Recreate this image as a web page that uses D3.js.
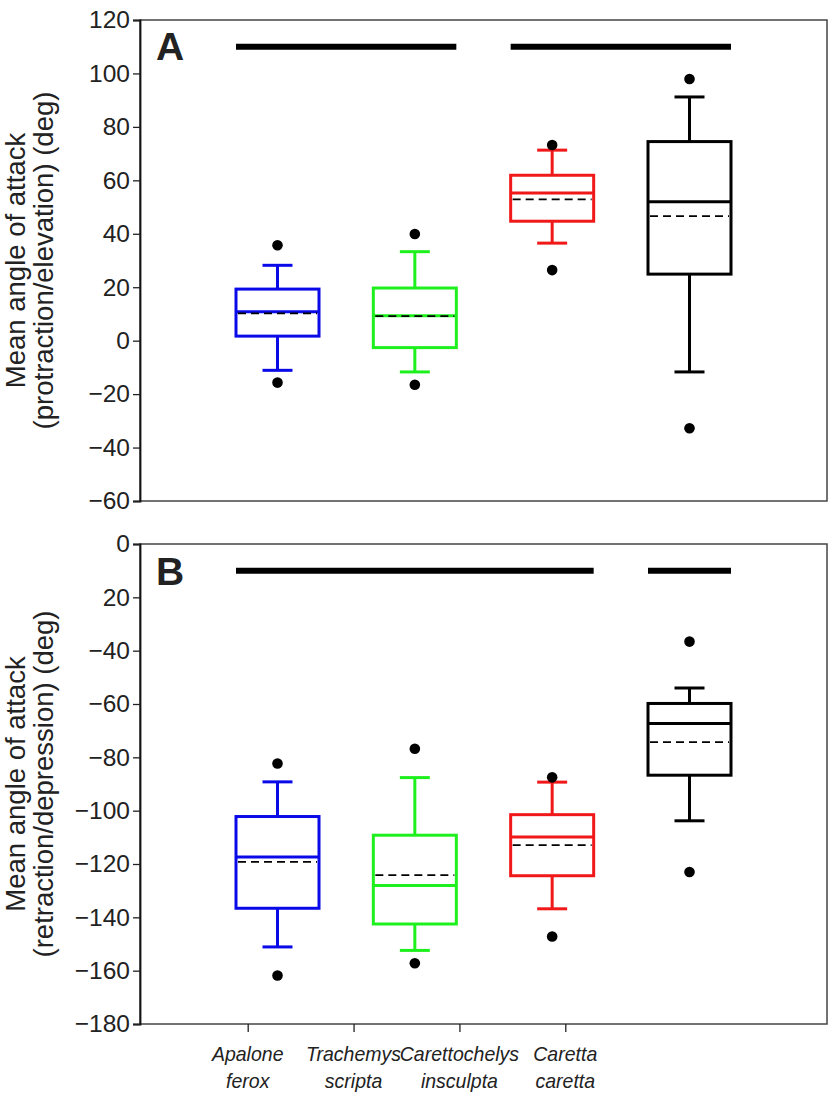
<!DOCTYPE html>
<html><head><meta charset="utf-8">
<script src="https://cdn.jsdelivr.net/npm/d3@7"></script>
<style>body{margin:0;background:#fff}svg{display:block}</style>
</head><body>
<script>
// ---- data ----
const categories = ["Apalone ferox", "Trachemys scripta", "Carettochelys insculpta", "Caretta caretta"];
const labelLine1 = ["Apalone", "Trachemys", "Carettochelys", "Caretta"];
const labelLine2 = ["ferox", "scripta", "insculpta", "caretta"];
const colors = ["#0a0ae8", "#1ef01e", "#f01818", "#000000"];

// panel A (protraction/elevation)
const aLowOut  = [-15.7, -16.5, 26.4, -32.8];
const aLowWh   = [-11.1, -11.7, 36.5, -11.7];
const aQ1      = [1.7, -2.6, 44.7, 24.9];
const aMedian  = [10.8, 9.3, 55.3, 52.0];
const aMean    = [10.2, 9.2, 52.9, 46.6];
const aQ3      = [19.3, 19.7, 61.9, 74.5];
const aHighWh  = [28.2, 33.3, 71.3, 91.2];
const aHighOut = [35.7, 39.9, 73.2, 97.9];
const aTicks = [120, 100, 80, 60, 40, 20, 0, -20, -40, -60];
const aTickLabels = ["120", "100", "80", "60", "40", "20", "0", "\u221220", "\u221240", "\u221260"];
const aSigBars = [[0, 1], [2, 3]];
const aSigLevel = 110;

// panel B (retraction/depression)
const bLowOut  = [-161.8, -157.2, -147.2, -123.0];
const bLowWh   = [-151.1, -152.4, -136.8, -103.8];
const bQ1      = [-136.6, -142.5, -124.4, -86.7];
const bMedian  = [-117.4, -128.1, -109.9, -67.3];
const bMean    = [-119.2, -124.2, -112.9, -74.3];
const bQ3      = [-102.2, -109.2, -101.5, -59.8];
const bHighWh  = [-89.2, -87.6, -89.3, -54.0];
const bHighOut = [-82.3, -76.8, -87.5, -36.6];
const bTicks = [0, -20, -40, -60, -80, -100, -120, -140, -160, -180];
const bTickLabels = ["0", "20", "\u221240", "\u221260", "\u221280", "\u2212100", "\u2212120", "\u2212140", "\u2212160", "\u2212180"];
const bSigBars = [[0, 2], [3, 3]];
const bSigLevel = -10;

// ---- layout ----
const W = 829, H = 1098;
const left = 140, right = 827;
const svg = d3.select("body").append("svg").attr("width", W).attr("height", H)
  .style("font-family", "'Liberation Sans', Arial, sans-serif");

const xBox = d3.scalePoint().domain(categories).range([277.5, 689.5]);
const xLab = d3.scalePoint().domain(categories).range([247.7, 565.3]);
const boxHalf = 41.5, capHalf = 15;

function panel(opts) {
  const y = d3.scaleLinear().domain(opts.domain).range([opts.bottom, opts.top]);
  const g = svg.append("g");
  // frame
  g.append("rect").attr("x", left).attr("y", opts.top).attr("width", right - left).attr("height", opts.bottom - opts.top)
    .attr("fill", "none").attr("stroke", "#444").attr("stroke-width", 1.5);
  // axis
  const ax = g.append("g").attr("transform", `translate(${left},0)`)
    .call(d3.axisLeft(y).tickValues(opts.ticks).tickSize(7).tickPadding(3)
      .tickFormat((d, i) => opts.tickLabels[i]));
  ax.select(".domain").attr("stroke", "#111").attr("stroke-width", 1.8);
  ax.selectAll(".tick line").attr("stroke", "#222").attr("stroke-width", 1.3);
  ax.selectAll(".tick text").attr("font-size", 24.5).attr("fill", "#222").attr("font-family", "'Liberation Sans', Arial, sans-serif");

  // panel letter
  g.append("text").attr("x", 156).attr("y", opts.letterY).attr("font-size", 39).attr("font-weight", "bold")
    .attr("fill", "#222").text(opts.letter);

  // significance bars
  g.selectAll(".sig").data(opts.sig).enter().append("line")
    .attr("x1", d => xBox(categories[d[0]]) - boxHalf)
    .attr("x2", d => xBox(categories[d[1]]) + boxHalf)
    .attr("y1", y(opts.sigLevel)).attr("y2", y(opts.sigLevel))
    .attr("stroke", "#000").attr("stroke-width", 6);

  // y title
  const cy = (opts.top + opts.bottom) / 2;
  const t = g.append("text").attr("transform", `translate(25,${cy}) rotate(-90)`)
    .attr("text-anchor", "middle").attr("font-size", 27.5).attr("fill", "#222");
  t.append("tspan").attr("x", 0).attr("dy", 0).text("Mean angle of attack");
  t.append("tspan").attr("x", 0).attr("dy", 28).text(opts.title2);

  categories.forEach((c, i) => {
    const cx = xBox(c), col = colors[i];
    const bg = g.append("g").attr("stroke", col).attr("stroke-width", 3).attr("fill", "none");
    // whiskers
    bg.append("line").attr("x1", cx).attr("x2", cx).attr("y1", y(opts.q3[i])).attr("y2", y(opts.hw[i]));
    bg.append("line").attr("x1", cx).attr("x2", cx).attr("y1", y(opts.q1[i])).attr("y2", y(opts.lw[i]));
    bg.append("line").attr("x1", cx - capHalf).attr("x2", cx + capHalf).attr("y1", y(opts.hw[i])).attr("y2", y(opts.hw[i]));
    bg.append("line").attr("x1", cx - capHalf).attr("x2", cx + capHalf).attr("y1", y(opts.lw[i])).attr("y2", y(opts.lw[i]));
    // box
    bg.append("rect").attr("x", cx - boxHalf).attr("width", 2 * boxHalf)
      .attr("y", y(opts.q3[i])).attr("height", y(opts.q1[i]) - y(opts.q3[i]));
    // median
    bg.append("line").attr("x1", cx - boxHalf).attr("x2", cx + boxHalf).attr("y1", y(opts.med[i])).attr("y2", y(opts.med[i]));
    // mean dashed
    g.append("line").attr("x1", cx - boxHalf + 2).attr("x2", cx + boxHalf - 2).attr("y1", y(opts.mean[i])).attr("y2", y(opts.mean[i]))
      .attr("stroke", "#000").attr("stroke-width", 1.8).attr("stroke-dasharray", "8,5");
    // outliers
    [opts.ho[i], opts.lo[i]].forEach(v => {
      g.append("circle").attr("cx", cx).attr("cy", y(v)).attr("r", 5.3).attr("fill", "#000");
    });
  });
  return y;
}

panel({top: 20, bottom: 501, domain: [-60, 120], ticks: aTicks, tickLabels: aTickLabels,
  letter: "A", letterY: 60, sig: aSigBars, sigLevel: aSigLevel, title2: "(protraction/elevation) (deg)",
  lo: aLowOut, lw: aLowWh, q1: aQ1, med: aMedian, mean: aMean, q3: aQ3, hw: aHighWh, ho: aHighOut});

panel({top: 544, bottom: 1024, domain: [-180, 0], ticks: bTicks, tickLabels: bTickLabels,
  letter: "B", letterY: 585, sig: bSigBars, sigLevel: bSigLevel, title2: "(retraction/depression) (deg)",
  lo: bLowOut, lw: bLowWh, q1: bQ1, med: bMedian, mean: bMean, q3: bQ3, hw: bHighWh, ho: bHighOut});

// category axis below panel B
const xa = svg.append("g").attr("transform", "translate(0,1024)")
  .call(d3.axisBottom(xLab).tickSize(8).tickFormat(""));
xa.select(".domain").remove();
xa.selectAll(".tick line").attr("stroke", "#222").attr("stroke-width", 1.3);
categories.forEach((c, i) => {
  const t = svg.append("text").attr("x", xLab(c)).attr("y", 1061).attr("text-anchor", "middle")
    .attr("font-size", 21).attr("font-style", "italic").attr("fill", "#222")
    .attr("transform", `translate(${xLab(c)},0) scale(0.93,1) translate(${-xLab(c)},0)`);
  t.append("tspan").attr("x", xLab(c)).text(labelLine1[i]);
  t.append("tspan").attr("x", xLab(c)).attr("dy", 27).text(labelLine2[i]);
});
</script>
</body></html>
